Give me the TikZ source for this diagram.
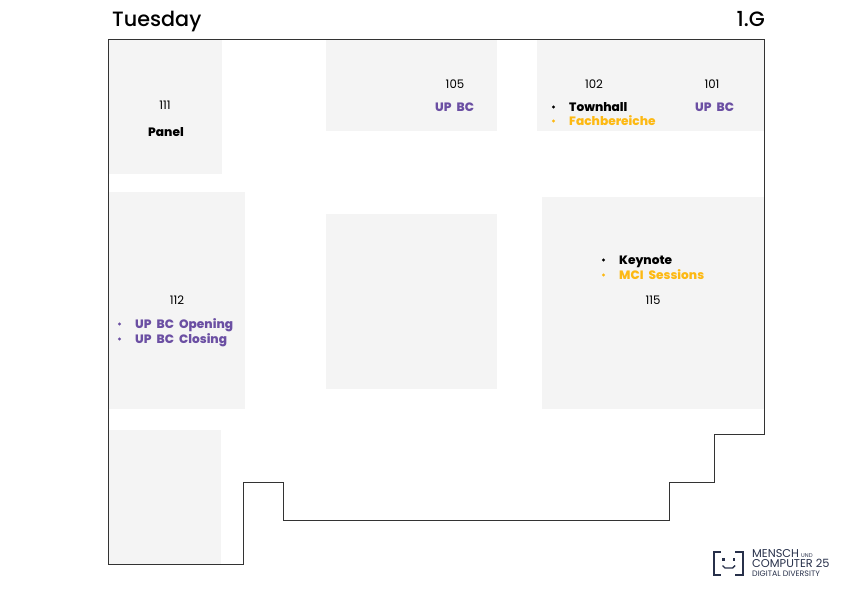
\documentclass[tikz,border=0pt]{standalone}
\usepackage{fontspec}
\setmainfont{Poppins}
\newfontfamily\medfont{Poppins Medium}
\definecolor{roomgray}{HTML}{F4F4F4}
\definecolor{ubpurple}{HTML}{6B4FA3}
\definecolor{mciyellow}{HTML}{FDB913}
\definecolor{logoblue}{HTML}{27304A}
\newcommand{\evlabel}[1]{\fontsize{12.2}{14}\medfont\bfseries\spaceskip 0.42em\relax #1}
\tikzset{
	room/.style={fill=roomgray},
	num/.style={font=\fontsize{11.8}{13}\selectfont,text=black,inner sep=0pt,anchor=base},
	ev/.style={inner sep=0pt,anchor=base west},
	title/.style={font=\fontsize{20.8}{24}\selectfont\medfont,inner sep=0pt},
	dot/.style={circle,inner sep=0pt,minimum size=3.4pt},
	logotext/.style={text=logoblue,inner sep=0pt,anchor=base west}
}
\begin{document}
\begin{tikzpicture}[x=1bp,y=-1bp]
	\useasboundingbox (0,0) rectangle (842,596);

	\fill[room] (109,40) rectangle (222,174);
	\fill[room] (326,40) rectangle (497,131);
	\fill[room] (537,40) rectangle (765,131);
	\fill[room] (109,192) rectangle (245,409);
	\fill[room] (326,214) rectangle (497,389);
	\fill[room] (542,197) rectangle (765,409);
	\fill[room] (109,430) rectangle (221,564);

	\draw[draw=black!80,line width=0.8pt] (108.5,39.5) -- (764.5,39.5) -- (764.5,434) -- (714.5,434) -- (714.5,482) -- (669,482) -- (669,520) -- (283.5,520) -- (283.5,482) -- (243,482) -- (243,564) -- (108.5,564) -- cycle;

	\node[title,anchor=base west] (day) at (112,27) {Tuesday};
	\node[title,anchor=base east] (floor) at (765,27) {1.G};

	\node[num] (r111) at (165,110) {111};
	\node[ev] (panel) at (148,137) {\evlabel{Panel}};

	\node[num] (r105) at (455,89) {105};
	\node[ev,text=ubpurple] (ub105) at (435,112) {\evlabel{UP BC}};

	\node[num] (r102) at (594,89) {102};
	\node[num] (r101) at (712,89) {101};
	\node[dot,fill=black] (d1) at (553.5,107) {};
	\node[ev] (townhall) at (569,112) {\evlabel{Townhall}};
	\node[dot,fill=mciyellow] (d2) at (553.5,121) {};
	\node[ev,text=mciyellow] (fach) at (569,126) {\evlabel{Fachbereiche}};
	\node[ev,text=ubpurple] (ub101) at (695,112) {\evlabel{UP BC}};

	\node[num] (r112) at (177,304) {112};
	\node[dot,fill=ubpurple] (d3) at (119.5,324) {};
	\node[ev,text=ubpurple] (opening) at (135,328) {\evlabel{UP BC Opening}};
	\node[dot,fill=ubpurple] (d4) at (119.5,339) {};
	\node[ev,text=ubpurple] (closing) at (135,343) {\evlabel{UP BC Closing}};

	\node[dot,fill=black] (d5) at (603.5,260) {};
	\node[ev] (keynote) at (619,264) {\evlabel{Keynote}};
	\node[dot,fill=mciyellow] (d6) at (603.5,275) {};
	\node[ev,text=mciyellow] (mci) at (619,279) {\evlabel{MCI Sessions}};
	\node[num] (r115) at (653,304) {115};

	% logo
	\draw[logoblue,line width=2pt] (721,552) -- (714,552) -- (714,575) -- (721,575);
	\draw[logoblue,line width=2pt] (735,552) -- (743,552) -- (743,575) -- (735,575);
	\fill[logoblue] (722,558) rectangle (724.5,560.5);
	\fill[logoblue] (732.5,558) rectangle (735,560.5);
	\draw[logoblue,line width=1.4pt] (722.5,565.5) -- (725,568) -- (732.5,568) -- (735,565.5);
	\node[logotext,font=\fontsize{11.4}{12}\selectfont] (mensch) at (752,557.5) {MENSCH};
	\node[logotext,font=\fontsize{5.5}{6}\selectfont] (und) at (801,557.5) {UND};
	\node[logotext,font=\fontsize{11.4}{12}\selectfont] (computer) at (752,567.5) {COMPUTER 25};
	\node[logotext,font=\fontsize{7.9}{8}\selectfont] (diversity) at (752,576.5) {DIGITAL DIVERSITY};
\end{tikzpicture}
\end{document}
